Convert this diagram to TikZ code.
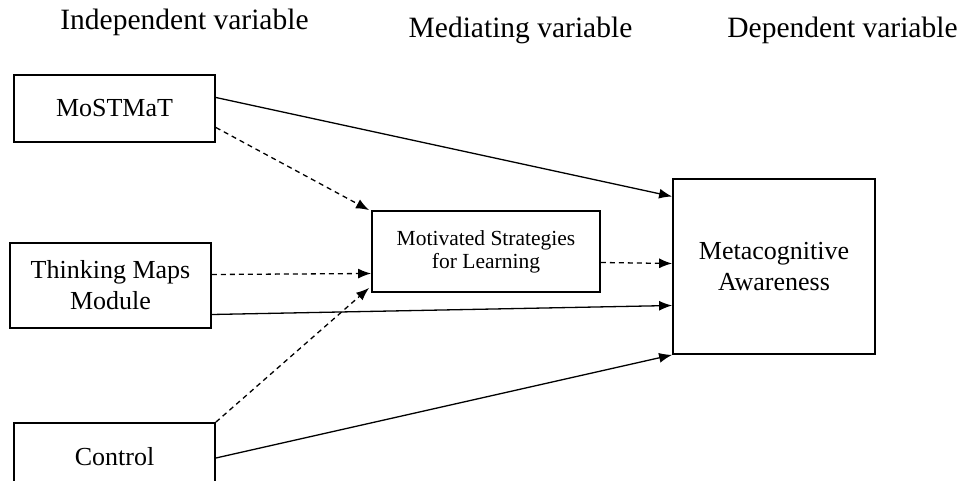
\documentclass[tikz,border=0pt]{standalone}
\usepackage{fontspec}
\setmainfont{Liberation Serif}
\usetikzlibrary{arrows.meta}

\tikzset{
  box/.style={draw, line width=1.8pt, inner sep=0pt, align=center,
    font=\fontsize{26}{31}\selectfont},
  title/.style={font=\fontsize{29.5}{34}\selectfont},
  link/.style={line width=1.3pt, -{Latex[length=13pt,width=10pt]}},
  dlink/.style={link, dash pattern=on 5pt off 4pt}
}

\begin{document}
\begin{tikzpicture}[x=1pt,y=-1pt]
    \clip (0,0) rectangle (958,481);

    \node[title] (iv) at (184.5,22) {Independent variable};
    \node[title] (mv) at (520.5,30) {Mediating variable};
    \node[title] (dv) at (842.5,30) {Dependent variable};

    \node[box, minimum width=201pt, minimum height=67pt] (mostmat) at (114.5,108.5) {MoSTMaT};
    \node[box, minimum width=201pt, minimum height=85pt] (tmm) at (110.5,285.5) {Thinking Maps\\Module};
    \node[box, minimum width=201pt, minimum height=68pt] (control) at (114.5,457) {Control};
    \node[box, minimum width=228pt, minimum height=81pt,
      font=\fontsize{21.5}{23}\selectfont] (msl) at (486,251.5) {Motivated Strategies\\for Learning};
    \node[box, minimum width=202pt, minimum height=175pt] (meta) at (774,266.5) {Metacognitive\\Awareness};

    % direct paths
    \draw[link] ([yshift=11pt]mostmat.east) -- ([yshift=70pt]meta.west);
    \draw[link] ([yshift=-29pt]tmm.east) -- ([yshift=-39pt]meta.west);
    \draw[link] ([yshift=-1pt]control.east) -- (meta.south west);

    % mediated paths
    \draw[dlink] ([yshift=-19pt]mostmat.east) -- ([xshift=-2pt]msl.north west);
    \draw[dlink] ([yshift=11pt]tmm.east) -- ([yshift=-22pt]msl.west);
    \draw[dlink] (control.north east) -- ([xshift=-2pt,yshift=5pt]msl.south west);
    \draw[dlink] ([yshift=-11pt]msl.east) -- ([yshift=3pt]meta.west);
  \end{tikzpicture}
\end{document}
